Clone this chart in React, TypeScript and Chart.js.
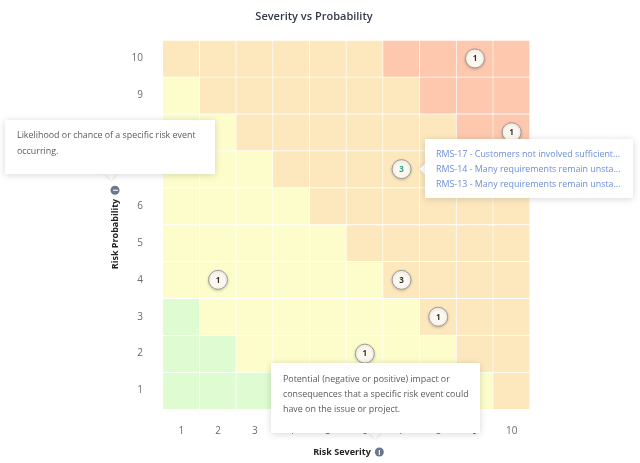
import React, { useEffect, useRef } from 'react';
import { Chart, registerables } from 'chart.js';

Chart.register(...registerables);

const FONT = "'Open Sans', 'Noto Sans', sans-serif";

const chartTitle = 'Severity vs Probability';
const xAxisTitle = 'Risk Severity';
const yAxisTitle = 'Risk Probability';

const severityLabels = ['1', '2', '3', '4', '5', '6', '7', '8', '9', '10'];
const probabilityLabels = ['1', '2', '3', '4', '5', '6', '7', '8', '9', '10'];

// risk level per cell: 0 = low (green), 1 = moderate (yellow), 2 = high (orange), 3 = critical (red)
const riskLevelsP1 = [0, 0, 0, 1, 1, 1, 1, 1, 1, 2];
const riskLevelsP2 = [0, 0, 1, 1, 1, 1, 1, 1, 2, 2];
const riskLevelsP3 = [0, 1, 1, 1, 1, 1, 1, 2, 2, 2];
const riskLevelsP4 = [1, 1, 1, 1, 1, 1, 2, 2, 2, 2];
const riskLevelsP5 = [1, 1, 1, 1, 1, 2, 2, 2, 2, 2];
const riskLevelsP6 = [1, 1, 1, 1, 2, 2, 2, 2, 2, 2];
const riskLevelsP7 = [1, 1, 1, 2, 2, 2, 2, 2, 2, 3];
const riskLevelsP8 = [1, 1, 2, 2, 2, 2, 2, 2, 3, 3];
const riskLevelsP9 = [1, 2, 2, 2, 2, 2, 2, 3, 3, 3];
const riskLevelsP10 = [2, 2, 2, 2, 2, 2, 3, 3, 3, 3];
const riskLevelRows = [
  riskLevelsP1, riskLevelsP2, riskLevelsP3, riskLevelsP4, riskLevelsP5,
  riskLevelsP6, riskLevelsP7, riskLevelsP8, riskLevelsP9, riskLevelsP10,
];
const levelColors = ['#dffbd2', '#fcfdcb', '#fde8be', '#fdc8ad'];

// risks placed on the matrix
const riskSeverity = [9, 10, 7, 2, 7, 8, 6];
const riskProbability = [10, 8, 7, 4, 4, 3, 2];
const riskCount = [1, 1, 3, 1, 3, 1, 1];
const selectedRisk = 2;

const probabilityTooltip = ['Likelihood or chance of a specific risk event', 'occurring.'];
const severityTooltip = [
  'Potential (negative or positive) impact or',
  'consequences that a specific risk event could',
  'have on the issue or project.',
];
const riskListTooltip = [
  'RMS-17 - Customers not involved sufficient...',
  'RMS-14 - Many requirements remain unsta...',
  'RMS-13 - Many requirements remain unsta...',
];

function drawInfoIcon(ctx: CanvasRenderingContext2D, x: number, y: number, r: number) {
  ctx.beginPath();
  ctx.arc(x, y, r, 0, Math.PI * 2);
  ctx.fillStyle = '#6b778c';
  ctx.fill();
  ctx.fillStyle = '#ffffff';
  ctx.font = `bold 7px ${FONT}`;
  ctx.textAlign = 'center';
  ctx.textBaseline = 'middle';
  ctx.fillText('i', x, y + 0.5);
}

const overlayPlugin = {
  id: 'overlayPlugin',
  beforeDatasetDraw(chart: any, args: any) {
    if (args.meta.type === 'bubble') {
      const ctx = chart.ctx;
      ctx.save();
      ctx.shadowColor = 'rgba(0,0,0,0.18)';
      ctx.shadowBlur = 3;
      ctx.shadowOffsetY = 1;
    }
  },
  afterDatasetDraw(chart: any, args: any) {
    if (args.meta.type === 'bubble') {
      chart.ctx.restore();
    }
  },
  afterDraw(chart: any) {
    const ctx: CanvasRenderingContext2D = chart.ctx;
    const ca = chart.chartArea;
    // bubble counts
    chart.data.datasets.forEach((ds: any, di: number) => {
      if (ds.type !== 'bubble') return;
      const meta = chart.getDatasetMeta(di);
      meta.data.forEach((el: any, i: number) => {
        ctx.save();
        ctx.font = `bold 8px ${FONT}`;
        ctx.textAlign = 'center';
        ctx.textBaseline = 'middle';
        ctx.fillStyle = i === selectedRisk ? '#23a78a' : '#333333';
        ctx.fillText(String(riskCount[i]), el.x, el.y + 0.5);
        ctx.restore();
      });
    });
    // axis titles with info icons
    const r = 4.5;
    const gap = 4;
    ctx.save();
    ctx.font = `bold 9px ${FONT}`;
    ctx.fillStyle = '#222222';
    ctx.textBaseline = 'middle';
    ctx.textAlign = 'left';
    let w = ctx.measureText(xAxisTitle).width;
    let total = w + gap + 2 * r;
    let sx = (ca.left + ca.right) / 2 - total / 2 + 2;
    const ty = ca.bottom + 43;
    ctx.fillText(xAxisTitle, sx, ty);
    drawInfoIcon(ctx, sx + w + gap + r, ty, r);
    ctx.restore();

    ctx.save();
    ctx.font = `bold 9px ${FONT}`;
    ctx.fillStyle = '#222222';
    ctx.textBaseline = 'middle';
    ctx.textAlign = 'left';
    w = ctx.measureText(yAxisTitle).width;
    total = w + gap + 2 * r;
    ctx.translate(ca.left - 48, (ca.top + ca.bottom) / 2 + 3);
    ctx.rotate(-Math.PI / 2);
    sx = -total / 2;
    ctx.fillText(yAxisTitle, sx, 0);
    drawInfoIcon(ctx, sx + w + gap + r, 0, r);
    ctx.restore();
  },
};

type TipProps = {
  left: number; top: number; width: number; height: number;
  arrow: 'bottom' | 'left'; arrowAt: number;
  color: string; padTop: number; padLeft: number; lineHeight: number;
  lines: string[];
};

function Tip(p: TipProps) {
  const s = 8;
  const arrowStyle: React.CSSProperties =
    p.arrow === 'bottom'
      ? { left: p.arrowAt - p.left - s / 2, top: p.height - s / 2 }
      : { left: -s / 2, top: p.arrowAt - p.top - s / 2 };
  return (
    <div style={{ position: 'absolute', left: p.left, top: p.top, width: p.width, height: p.height }}>
      <div
        style={{
          position: 'absolute', width: s, height: s, background: '#fff',
          transform: 'rotate(45deg)', boxShadow: '0 0 4px rgba(0,0,0,0.18)', ...arrowStyle,
        }}
      />
      <div
        style={{
          position: 'absolute', left: 0, top: 0, right: 0, bottom: 0, background: '#fff',
          boxShadow: '0 1px 7px rgba(0,0,0,0.16)', boxSizing: 'border-box',
          paddingTop: p.padTop, paddingLeft: p.padLeft, color: p.color,
          fontFamily: FONT, fontSize: 8.9, lineHeight: p.lineHeight + 'px', whiteSpace: 'nowrap',
        }}
      >
        {p.lines.map((l, i) => (
          <div key={i}>{l}</div>
        ))}
      </div>
    </div>
  );
}

export default function App() {
  const ref = useRef<HTMLCanvasElement>(null);

  useEffect(() => {
    if (!ref.current) return;
    const cellSets: any[] = probabilityLabels.map((p, pi) => ({
      type: 'bar',
      label: 'Probability ' + p,
      data: severityLabels.map(() => [Number(p) - 1, Number(p)]),
      backgroundColor: riskLevelRows[pi].map((lv) => levelColors[lv]),
      borderColor: '#ffffff',
      borderWidth: { top: 1, right: 1, bottom: 0, left: 0 },
      borderSkipped: false,
      barPercentage: 1,
      categoryPercentage: 1,
      grouped: false,
      order: 2,
    }));
    const bubbleSet: any = {
      type: 'bubble',
      label: 'Risks',
      data: riskSeverity.map((s, i) => ({ x: String(s), y: riskProbability[i] - 0.5 })),
      radius: 9.5,
      backgroundColor: '#fcf7ef',
      borderColor: '#9c9c9c',
      borderWidth: 1,
      order: 0,
    };
    const chart = new Chart(ref.current, {
      type: 'bar',
      data: { labels: severityLabels, datasets: [...cellSets, bubbleSet] },
      options: {
        responsive: true,
        maintainAspectRatio: false,
        animation: false,
        events: [],
        layout: { padding: { left: 0, right: 12, top: 0, bottom: 0 } },
        plugins: {
          legend: { display: false },
          tooltip: { enabled: false },
          title: {
            display: true,
            text: chartTitle,
            color: '#333a48',
            font: { family: FONT, size: 11, weight: '600' as any },
            padding: { top: 10, bottom: 16.8 },
          },
        },
        scales: {
          x: {
            type: 'category',
            labels: severityLabels,
            offset: true,
            grid: { display: false },
            border: { display: false },
            ticks: { color: '#6b6b6b', font: { family: FONT, size: 10 }, padding: 8 },
            afterFit: (s: any) => { s.height = 54; },
          },
          y: {
            type: 'linear',
            min: 0,
            max: 10,
            grid: { display: false },
            border: { display: false },
            afterBuildTicks: (s: any) => {
              s.ticks = probabilityLabels.map((p) => ({ value: Number(p) - 0.5 }));
            },
            ticks: {
              color: '#6b6b6b',
              font: { family: FONT, size: 10 },
              padding: 12,
              callback: (v: any) => String(Number(v) + 0.5),
            },
            afterFit: (s: any) => { s.width = 163; },
          },
          yPad: {
            type: 'linear',
            position: 'right',
            display: true,
            grid: { display: false },
            border: { display: false },
            ticks: { display: false },
            afterFit: (s: any) => { s.width = 98; },
          },
        },
      } as any,
      plugins: [overlayPlugin],
    });
    return () => chart.destroy();
  }, []);

  return (
    <div style={{ position: 'absolute', left: 0, top: 0, width: 640, height: 463, background: '#fff', overflow: 'hidden' }}>
      <div style={{ position: 'absolute', left: 0, top: 0, width: 640, height: 463 }}>
        <canvas ref={ref} />
      </div>
      <Tip left={5} top={120} width={210} height={54} arrow="bottom" arrowAt={111}
        color="#5a5a5a" padTop={7} padLeft={12} lineHeight={15.5} lines={probabilityTooltip} />
      <Tip left={425} top={139} width={208} height={59} arrow="left" arrowAt={169}
        color="#6d8ed6" padTop={8} padLeft={11} lineHeight={14.75} lines={riskListTooltip} />
      <Tip left={271} top={363} width={209} height={70} arrow="bottom" arrowAt={375}
        color="#5a5a5a" padTop={8} padLeft={12} lineHeight={15} lines={severityTooltip} />
    </div>
  );
}
